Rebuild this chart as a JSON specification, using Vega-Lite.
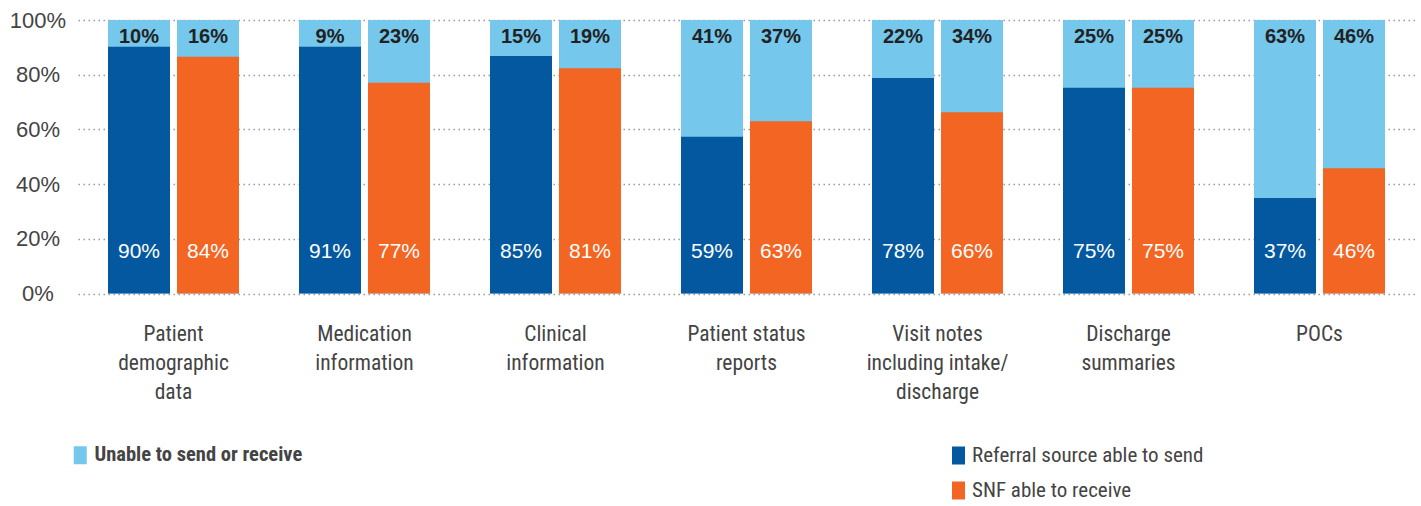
{
  "$schema": "https://vega.github.io/schema/vega-lite/v6.json",
  "width": 1337,
  "height": 273.5,
  "autosize": {"type": "none"},
  "padding": {"left": 78, "top": 20, "right": 6, "bottom": 212.5},
  "background": "white",
  "config": {"view": {"stroke": null}},
  "data": {
    "values": [
      {"category": "Patient\ndemographic\ndata", "group": "Referral source able to send", "bar": 0.902, "able": 0.90, "unable": 0.10},
      {"category": "Patient\ndemographic\ndata", "group": "SNF able to receive", "bar": 0.866, "able": 0.84, "unable": 0.16},
      {"category": "Medication\ninformation", "group": "Referral source able to send", "bar": 0.902, "able": 0.91, "unable": 0.09},
      {"category": "Medication\ninformation", "group": "SNF able to receive", "bar": 0.771, "able": 0.77, "unable": 0.23},
      {"category": "Clinical\ninformation", "group": "Referral source able to send", "bar": 0.868, "able": 0.85, "unable": 0.15},
      {"category": "Clinical\ninformation", "group": "SNF able to receive", "bar": 0.824, "able": 0.81, "unable": 0.19},
      {"category": "Patient status\nreports", "group": "Referral source able to send", "bar": 0.573, "able": 0.59, "unable": 0.41},
      {"category": "Patient status\nreports", "group": "SNF able to receive", "bar": 0.630, "able": 0.63, "unable": 0.37},
      {"category": "Visit notes\nincluding intake/\ndischarge", "group": "Referral source able to send", "bar": 0.788, "able": 0.78, "unable": 0.22},
      {"category": "Visit notes\nincluding intake/\ndischarge", "group": "SNF able to receive", "bar": 0.663, "able": 0.66, "unable": 0.34},
      {"category": "Discharge\nsummaries", "group": "Referral source able to send", "bar": 0.752, "able": 0.75, "unable": 0.25},
      {"category": "Discharge\nsummaries", "group": "SNF able to receive", "bar": 0.752, "able": 0.75, "unable": 0.25},
      {"category": "POCs", "group": "Referral source able to send", "bar": 0.349, "able": 0.37, "unable": 0.63},
      {"category": "POCs", "group": "SNF able to receive", "bar": 0.458, "able": 0.46, "unable": 0.46}
    ]
  },
  "encoding": {
    "x": {
      "field": "category", "type": "nominal", "sort": null,
      "scale": {"paddingInner": 0, "paddingOuter": 0},
      "axis": {
        "title": null, "domain": false, "ticks": false, "grid": false,
        "labelAngle": 0, "labelExpr": "split(datum.label, '\\n')",
        "labelFont": "Roboto Condensed, sans-serif", "labelFontSize": 21.5,
        "labelColor": "#444444", "labelLineHeight": 29, "labelBaseline": "top",
        "labelPadding": 29.5, "labelAlign": "center", "labelLimit": 0
      }
    },
    "xOffset": {
      "field": "group", "type": "nominal",
      "scale": {"domain": ["Referral source able to send", "SNF able to receive"], "paddingInner": 0.1014, "paddingOuter": 0.435}
    }
  },
  "layer": [
    {
      "mark": {"type": "bar", "opacity": 1},
      "encoding": {
        "y": {
          "datum": 1, "type": "quantitative",
          "scale": {"domain": [0, 1]},
          "axis": {
            "title": null, "values": [0, 0.2, 0.4, 0.6, 0.8, 1], "format": ".0%",
            "domain": false, "ticks": false,
            "grid": true, "gridColor": "#9a9a9a", "gridDash": [1.5, 3.5], "gridWidth": 1.5,
            "labelFont": "Liberation Sans, sans-serif", "labelFontSize": 22, "labelColor": "#444444",
            "labelAlign": "center", "labelPadding": 40.5, "labelBaseline": "middle"
          }
        },
        "fill": {
          "datum": "Unable to send or receive", "type": "nominal",
          "scale": {"range": ["#75c7ec"]},
          "legend": {
            "title": null, "orient": "none", "legendX": -8, "legendY": 425,
            "padding": 0, "labelLimit": 0,
            "symbolType": "M-0.72,-1H0.72V1H-0.72Z", "symbolSize": 324,
            "symbolStrokeWidth": 0,
            "labelFont": "Roboto Condensed, sans-serif", "labelFontSize": 20.5, "labelFontWeight": "bold",
            "labelColor": "#444444", "labelOffset": 4
          }
        }
      }
    },
    {
      "mark": {"type": "bar", "opacity": 1},
      "encoding": {
        "y": {"field": "bar", "type": "quantitative"},
        "color": {
          "field": "group", "type": "nominal",
          "scale": {"domain": ["Referral source able to send", "SNF able to receive"], "range": ["#03589f", "#f26522"]},
          "legend": {
            "title": null, "orient": "none", "legendX": 870, "legendY": 425,
            "padding": 0, "rowPadding": 13, "labelLimit": 0,
            "symbolType": "M-0.72,-1H0.72V1H-0.72Z", "symbolSize": 324,
            "symbolStrokeWidth": 0,
            "labelFont": "Roboto Condensed, sans-serif", "labelFontSize": 21,
            "labelColor": "#444444", "labelOffset": 3
          }
        }
      }
    },
    {
      "mark": {"type": "text", "font": "Liberation Sans, sans-serif", "fontSize": 20, "fontWeight": "bold", "color": "#222222", "baseline": "middle", "align": "center", "dy": 17},
      "encoding": {
        "y": {"datum": 1, "type": "quantitative"},
        "text": {"field": "unable", "type": "quantitative", "format": ".0%"}
      }
    },
    {
      "mark": {"type": "text", "font": "Liberation Sans, sans-serif", "fontSize": 21, "color": "#ffffff", "baseline": "middle", "align": "center", "dy": -41.5},
      "encoding": {
        "y": {"datum": 0, "type": "quantitative"},
        "text": {"field": "able", "type": "quantitative", "format": ".0%"}
      }
    }
  ]
}
